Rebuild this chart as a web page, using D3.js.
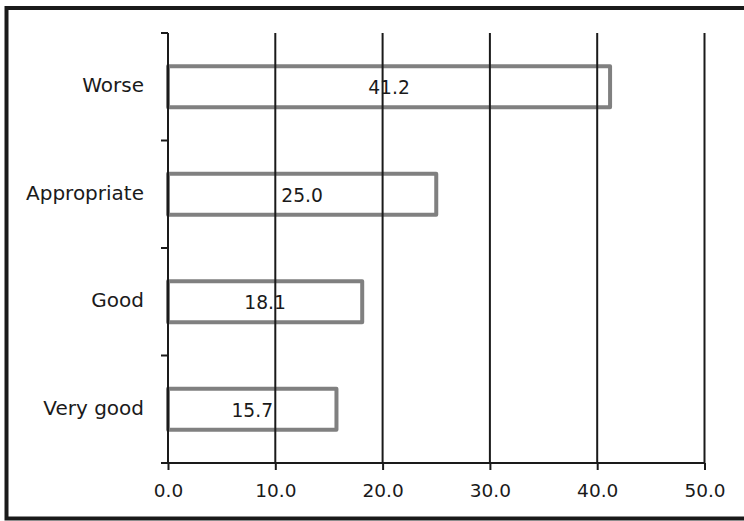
<!DOCTYPE html>
<html>
<head>
<meta charset="utf-8">
<script src="https://cdn.jsdelivr.net/npm/d3@7/dist/d3.min.js"></script>
<style>
  html, body { margin: 0; padding: 0; background: #fff; }
  svg { display: block; }
  text { font-family: "DejaVu Sans", sans-serif; fill: #1a1a1a; }
</style>
</head>
<body>
<svg id="chart" width="744" height="521"></svg>
<script>
const categories = ["Worse", "Appropriate", "Good", "Very good"];
const values = [41.2, 25.0, 18.1, 15.7];
const xTicks = [0, 10, 20, 30, 40, 50];
const xTickLabels = ["0.0", "10.0", "20.0", "30.0", "40.0", "50.0"];

(function () {
const svg = d3.select("#chart");

// outer frame
svg.append("rect")
  .attr("x", 6.5).attr("y", 8)
  .attr("width", 760).attr("height", 510.5)
  .attr("fill", "none").attr("stroke", "#1a1a1a").attr("stroke-width", 4);

const pLeft = 168, pRight = 704.5, pTop = 33, pBottom = 463;

const x = d3.scaleLinear().domain([0, 50]).range([pLeft, pRight]);
const y = d3.scaleBand().domain(categories).range([pTop, pBottom]).paddingInner(0.62).paddingOuter(0.31);

// bars
svg.append("g").selectAll("rect")
  .data(categories)
  .join("rect")
  .attr("x", x(0))
  .attr("y", d => y(d))
  .attr("width", (d, i) => x(values[i]) - x(0))
  .attr("height", y.bandwidth())
  .attr("fill", "#fff")
  .attr("stroke", "#808080")
  .attr("stroke-width", 4)
  .attr("stroke-linejoin", "round");

// gridlines
svg.append("g").selectAll("line")
  .data(xTicks.slice(1))
  .join("line")
  .attr("x1", d => x(d)).attr("x2", d => x(d))
  .attr("y1", pTop).attr("y2", pBottom)
  .attr("stroke", "#1a1a1a").attr("stroke-width", 2);

// x axis
const xAxis = d3.axisBottom(x)
  .tickValues(xTicks)
  .tickFormat((d, i) => xTickLabels[i])
  .tickSizeInner(7).tickSizeOuter(0).tickPadding(14);
const gx = svg.append("g").attr("transform", `translate(0,${pBottom})`).call(xAxis);
gx.select(".domain").remove();
gx.append("line").attr("x1", pLeft - 7).attr("x2", pRight).attr("y1", 0).attr("y2", 0)
  .attr("stroke", "#1a1a1a").attr("stroke-width", 2);
gx.selectAll(".tick line").attr("stroke", "#1a1a1a").attr("stroke-width", 2);
gx.selectAll(".tick text").style("font-family", "DejaVu Sans").style("font-size", "18.5px").attr("fill", "#1a1a1a");

// y axis: line + boundary ticks
const gy = svg.append("g");
gy.append("line").attr("x1", pLeft).attr("x2", pLeft).attr("y1", pTop).attr("y2", pBottom)
  .attr("stroke", "#1a1a1a").attr("stroke-width", 2);
const boundaries = d3.range(categories.length + 1).map(i => pTop + i * (pBottom - pTop) / categories.length);
gy.selectAll("line.tk").data(boundaries).join("line").attr("class", "tk")
  .attr("x1", pLeft - 7).attr("x2", pLeft).attr("y1", d => d).attr("y2", d => d)
  .attr("stroke", "#1a1a1a").attr("stroke-width", 2);
gy.selectAll("text").data(categories).join("text")
  .attr("x", 144)
  .attr("y", d => y(d) + y.bandwidth() / 2 - 1.5)
  .attr("text-anchor", "end")
  .attr("dominant-baseline", "central")
  .style("font-size", "20px")
  .text(d => d);

// data labels
svg.append("g").selectAll("text")
  .data(categories)
  .join("text")
  .attr("x", (d, i) => (x(0) + x(values[i])) / 2)
  .attr("y", d => y(d) + y.bandwidth() / 2 + 1)
  .attr("text-anchor", "middle")
  .attr("dominant-baseline", "central")
  .style("font-size", "18.7px")
  .text((d, i) => values[i].toFixed(1));
})();
</script>
</body>
</html>
